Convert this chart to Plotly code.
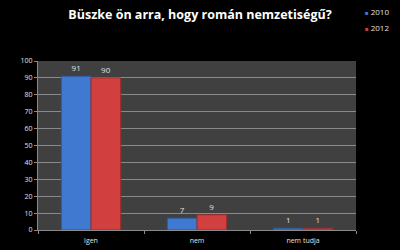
import plotly.graph_objects as go

categories = ["igen", "nem", "nem tudja"]
series_names = ["2010", "2012"]
values_2010 = [91, 7, 1]
values_2012 = [90, 9, 1]
y_ticks = list(range(0, 101, 10))

colors = ["#3f7ad0", "#d23f3f"]
edge = ["#2c5a9e", "#9e2c2c"]

fig = go.Figure()
for name, vals, c, e in zip(series_names, [values_2010, values_2012], colors, edge):
    fig.add_trace(go.Bar(
        x=categories, y=vals, name=name,
        marker=dict(color=c, line=dict(color=e, width=1)),
        text=[str(v) for v in vals], textposition="outside",
        textfont=dict(color="#e0e0e0", size=8, family="Open Sans"),
        cliponaxis=False, showlegend=False,
    ))

# legend drawn as text entries
for i, (name, c) in enumerate(zip(series_names, colors)):
    fig.add_annotation(
        xref="paper", yref="paper", x=1.022, y=1.29 - i * 0.09,
        xanchor="left", yanchor="middle", showarrow=False,
        text=f"<span style='color:{c};font-size:6px'>■</span> {name}",
        font=dict(color="#e0e0e0", size=8, family="Open Sans"),
    )

fig.update_layout(
    width=400, height=250,
    margin=dict(l=38, r=44, t=61, b=20),
    paper_bgcolor="black", plot_bgcolor="#404040",
    barmode="group", bargap=0.44, bargroupgap=0,
    title=dict(text="<b>Büszke ön arra, hogy román nemzetiségű?</b>",
               x=0.5, xanchor="center", y=0.94, yanchor="middle",
               font=dict(color="white", size=12.5, family="Open Sans")),
    showlegend=False,
    font=dict(family="Open Sans", color="#e0e0e0", size=8),
)
fig.update_yaxes(range=[0, 100], tickvals=y_ticks, showgrid=True,
                 gridcolor="#8a8a8a", gridwidth=1, showline=True,
                 linecolor="#8a8a8a", ticks="outside", ticklen=3,
                 tickcolor="#8a8a8a", tickfont=dict(size=7, color="#e0e0e0"),
                 zeroline=False, automargin=False)
fig.update_xaxes(showline=True, linecolor="#8a8a8a", ticks="outside",
                 tickson="boundaries", ticklen=3, tickcolor="#8a8a8a",
                 ticklabelstandoff=4, automargin=False,
                 tickfont=dict(size=7, color="#e0e0e0"))

fig.write_html("out.html")
